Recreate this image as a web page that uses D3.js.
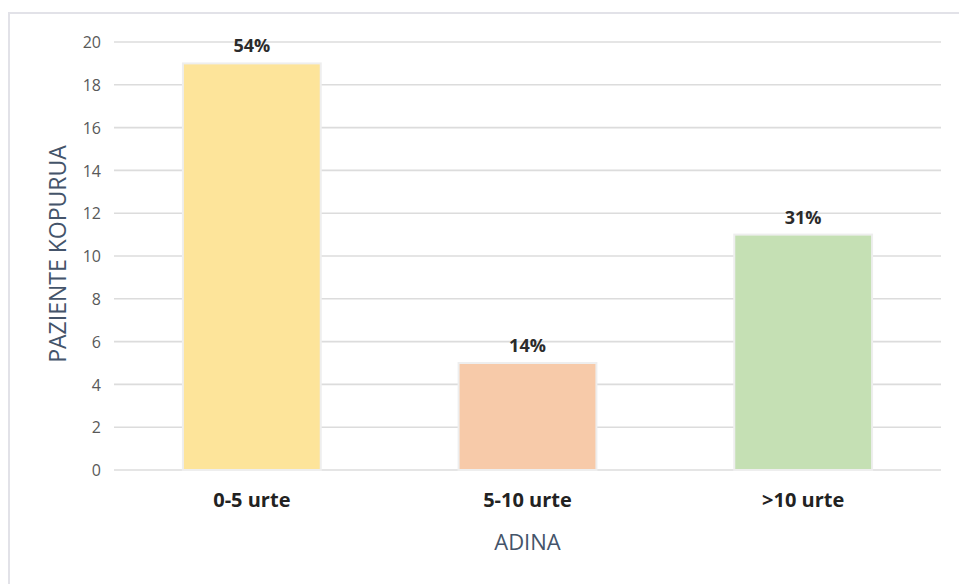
<!DOCTYPE html>
<html>
<head>
<meta charset="utf-8">
<script src="https://cdn.jsdelivr.net/npm/d3@7"></script>
<style>
  html, body { margin: 0; padding: 0; background: #ffffff; }
  svg { display: block; }
</style>
</head>
<body>
<svg id="chart" width="959" height="584"></svg>
<script>
// Patients by time-to-treatment bucket
const categories = ["0-5 urte", "5-10 urte", ">10 urte"];
const patients = [19, 5, 11];
const percentLabels = ["54%", "14%", "31%"];
const barColors = ["#fde49a", "#f7caa9", "#c5e0b4"];
const yTicks = [0, 2, 4, 6, 8, 10, 12, 14, 16, 18, 20];
const yTitle = "PAZIENTE KOPURUA";
const xTitle = "ADINA";

const font = "'Open Sans', 'Segoe UI', 'DejaVu Sans', sans-serif";
const svg = d3.select("#chart");

// outer frame (open to the right and bottom)
svg.append("rect")
  .attr("x", 9).attr("y", 13)
  .attr("width", 970).attr("height", 600)
  .attr("fill", "#ffffff")
  .attr("stroke", "#e2e2e8")
  .attr("stroke-width", 2);

const plot = { left: 114, right: 941, top: 42, bottom: 470 };

const x = d3.scaleBand()
  .domain(categories)
  .range([plot.left, plot.right])
  .paddingInner(0.5)
  .paddingOuter(0.25);

const y = d3.scaleLinear()
  .domain([0, 20])
  .range([plot.bottom, plot.top]);

// horizontal gridlines
svg.append("g")
  .selectAll("line")
  .data(yTicks)
  .join("line")
  .attr("x1", plot.left).attr("x2", plot.right)
  .attr("y1", d => y(d)).attr("y2", d => y(d))
  .attr("stroke", "#dcdcdc")
  .attr("stroke-width", 1.6);

// y axis tick labels
const yAxis = d3.axisLeft(y).tickValues(yTicks).tickSize(0).tickPadding(0);
const yg = svg.append("g")
  .attr("transform", `translate(${plot.left - 13},0)`)
  .call(yAxis);
yg.select(".domain").remove();
yg.selectAll("text")
  .attr("font-family", font)
  .attr("font-size", 16)
  .attr("fill", "#595959")
  .attr("dy", "0.35em");

// bars
svg.append("g")
  .selectAll("rect")
  .data(categories)
  .join("rect")
  .attr("x", d => x(d))
  .attr("width", x.bandwidth())
  .attr("y", (d, i) => y(patients[i]))
  .attr("height", (d, i) => y(0) - y(patients[i]))
  .attr("fill", (d, i) => barColors[i])
  .attr("stroke", "#eeeeee")
  .attr("stroke-width", 2);

// value labels above bars
svg.append("g")
  .selectAll("text")
  .data(categories)
  .join("text")
  .attr("x", d => x(d) + x.bandwidth() / 2)
  .attr("y", (d, i) => y(patients[i]) - 11)
  .attr("text-anchor", "middle")
  .attr("font-family", font)
  .attr("font-size", 18)
  .attr("font-weight", "bold")
  .attr("fill", "#2b2b2b")
  .text((d, i) => percentLabels[i]);

// category axis
const xAxis = d3.axisBottom(x).tickSize(0).tickPadding(0);
const xg = svg.append("g")
  .attr("transform", `translate(0,${plot.bottom + 37})`)
  .call(xAxis);
xg.select(".domain").remove();
xg.selectAll("text")
  .attr("font-family", font)
  .attr("font-size", 20)
  .attr("font-weight", "bold")
  .attr("fill", "#222222")
  .attr("dy", 0);

// axis titles
svg.append("text")
  .attr("x", x(categories[1]) + x.bandwidth() / 2)
  .attr("y", 550)
  .attr("text-anchor", "middle")
  .attr("font-family", font)
  .attr("font-size", 22)
  .attr("fill", "#44546a")
  .text(xTitle);

svg.append("text")
  .attr("transform", `translate(66,254) rotate(-90)`)
  .attr("text-anchor", "middle")
  .attr("font-family", font)
  .attr("font-size", 23)
  .attr("fill", "#44546a")
  .text(yTitle);
</script>
</body>
</html>
